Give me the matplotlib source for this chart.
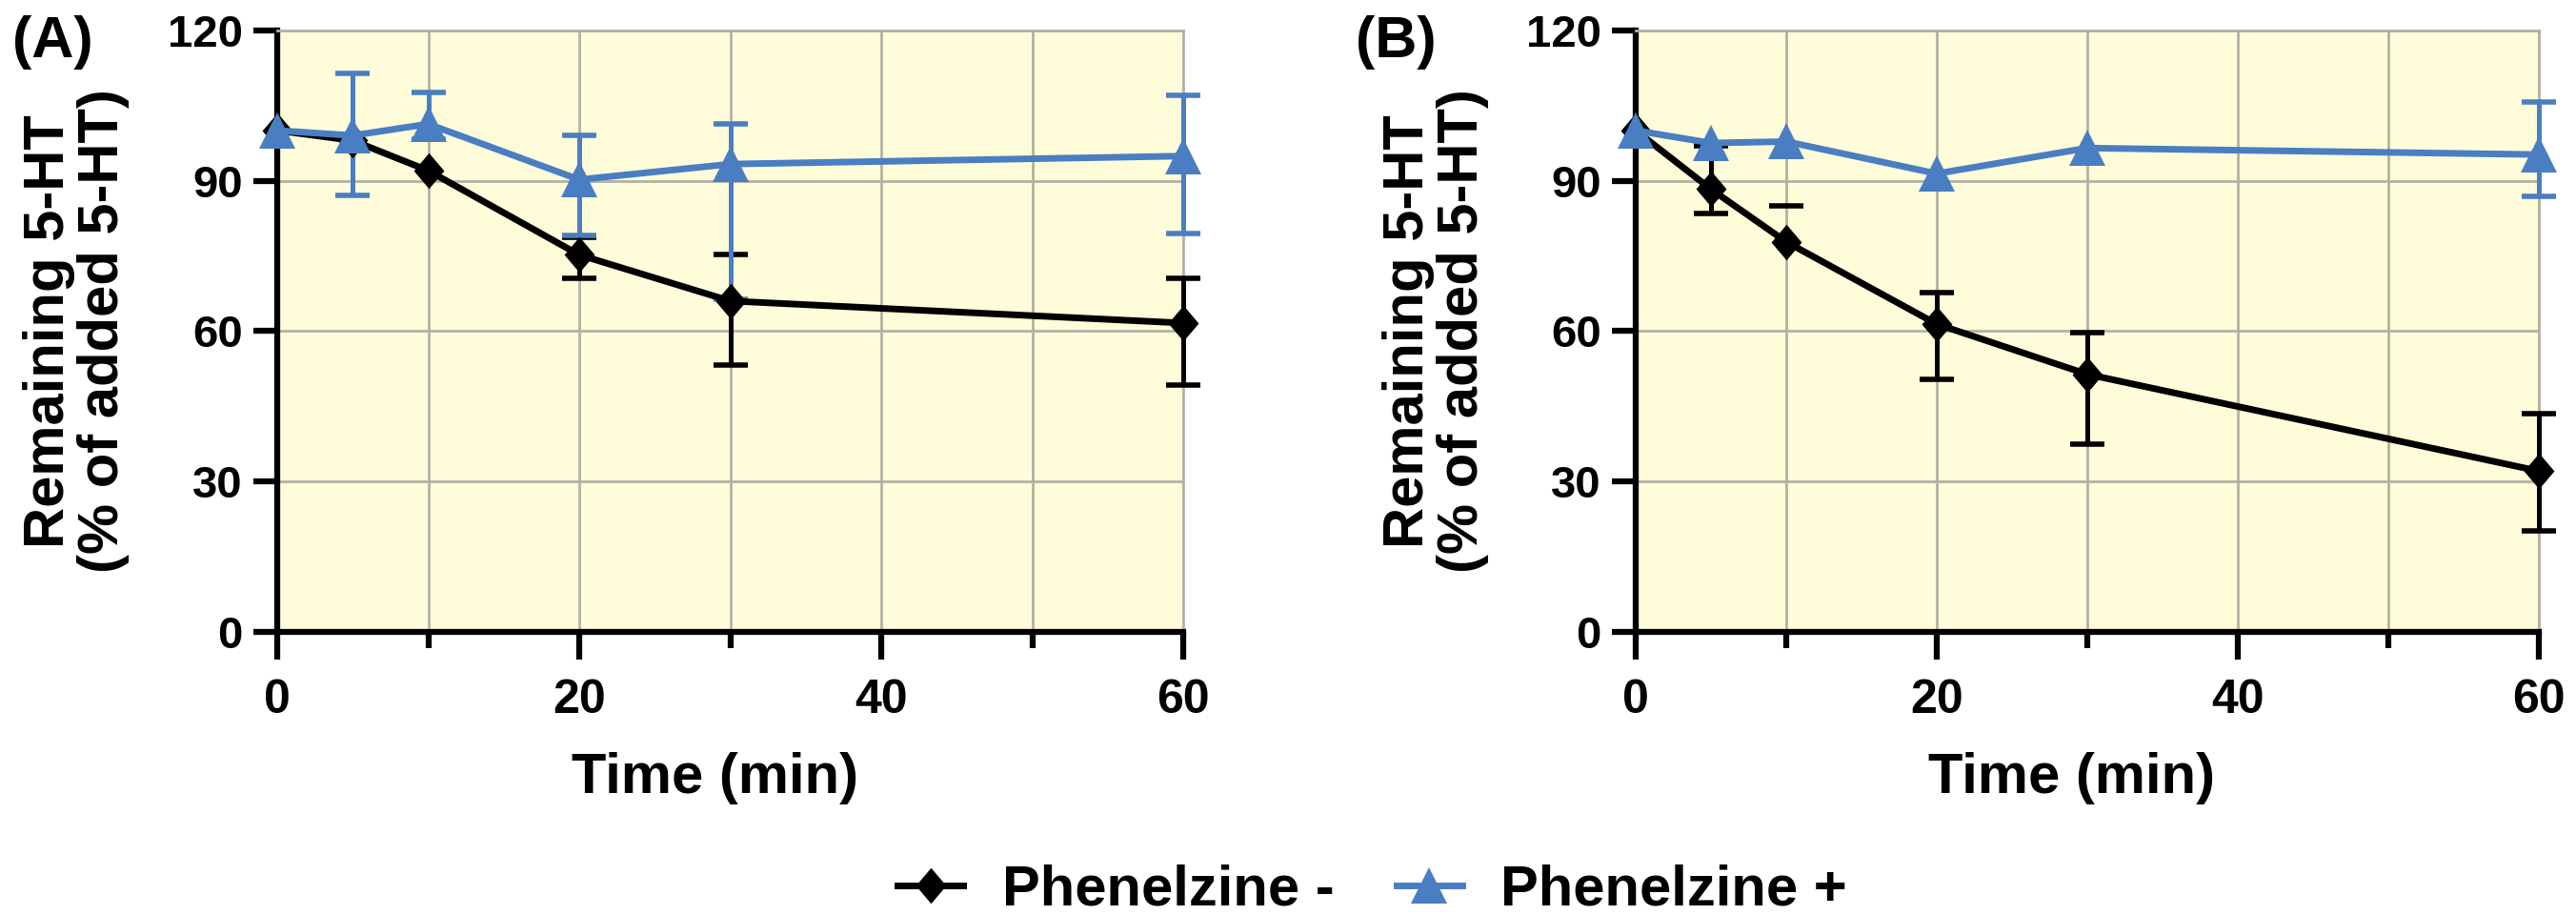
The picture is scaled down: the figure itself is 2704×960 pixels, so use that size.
import matplotlib
matplotlib.use("Agg")
import matplotlib.pyplot as plt
import numpy as np

plt.rcParams['font.family'] = ['Liberation Sans', 'DejaVu Sans']
plt.rcParams['font.weight'] = 'bold'

NA = np.nan  # error bar hidden behind the marker / not shown

# ---------------- data ----------------
times = [0, 5, 10, 20, 30, 60]

# Panel A
a_minus = [100, 98, 92, 75.2, 66.0, 61.6]
a_minus_lo = [NA, NA, NA, 4.7, 12.7, 12.4]
a_minus_hi = [NA, NA, NA, 3.5, 9.2, 9.0]
a_plus = [100, 99.0, 101.3, 90.2, 93.3, 94.9]
a_plus_lo = [NA, 12.0, 3.0, 11.2, 27.0, 15.5]
a_plus_hi = [NA, 12.4, 6.2, 8.8, 8.0, 12.2]

# Panel B
b_minus = [100, 88.3, 77.8, 61.4, 51.4, 32.1]
b_minus_lo = [NA, 4.8, NA, 11.1, 13.9, 12.0]
b_minus_hi = [NA, 8.6, 7.1, 6.3, 8.3, 11.4]
b_plus = [100, 97.5, 97.8, 91.4, 96.5, 95.2]
b_plus_lo = [NA, NA, NA, NA, NA, 8.4]
b_plus_hi = [NA, NA, NA, NA, NA, 10.5]

series_labels = ["Phenelzine -", "Phenelzine +"]
panel_labels = ["(A)", "(B)"]
xticks = [0, 20, 40, 60]
xminor = [10, 30, 50]
yticks = [0, 30, 60, 90, 120]
xlabel = "Time (min)"
ylabel = "Remaining 5-HT\n(% of added 5-HT)"

# ---------------- style ----------------
W, H, DPI = 2704, 960, 100
BLACK = "#000000"
BLUE = "#4A7EC3"
BG = "#FFFDD9"
GRID = "#B3B1A5"
diamond = [(0, 1), (0.85, 0), (0, -1), (-0.85, 0)]

fig = plt.figure(figsize=(W / DPI, H / DPI), dpi=DPI)

def px_ax(left, right, top, bottom):
    return [left / W, 1 - bottom / H, (right - left) / W, (bottom - top) / H]

axA = fig.add_axes(px_ax(291, 1242, 31.7, 663))
axB = fig.add_axes(px_ax(1717, 2664.5, 31.7, 663))

panels = [
    (axA, (a_minus, a_minus_lo, a_minus_hi), (a_plus, a_plus_lo, a_plus_hi)),
    (axB, (b_minus, b_minus_lo, b_minus_hi), (b_plus, b_plus_lo, b_plus_hi)),
]

handles = None
for i, (ax, minus, plus) in enumerate(panels):
    ax.set_facecolor(BG)
    ax.set_xlim(0, 60)
    ax.set_ylim(0, 120)
    ax.set_xticks(xticks)
    ax.set_xticks(xminor, minor=True)
    ax.set_yticks(yticks)
    ax.set_axisbelow(True)
    ax.grid(True, which='both', axis='x', color=GRID, linewidth=2.0)
    ax.grid(True, which='major', axis='y', color=GRID, linewidth=2.0)
    for s in ['top', 'right']:
        ax.spines[s].set_color(GRID)
        ax.spines[s].set_linewidth(2.0)
    for s in ['left', 'bottom']:
        ax.spines[s].set_color(BLACK)
        ax.spines[s].set_linewidth(4.5)
    ax.tick_params(axis='x', which='major', length=21, width=4.5, pad=14,
                   labelsize=36, direction='out')
    ax.tick_params(axis='x', which='minor', length=12.5, width=4.5, direction='out')
    ax.tick_params(axis='y', which='major', length=18, width=4.5, pad=8,
                   labelsize=34, direction='out')
    for lab in ax.get_xticklabels() + ax.get_yticklabels():
        lab.set_fontweight('bold')

    hs = []
    for (vals, lo, hi), color, marker, ms in [
        (minus, BLACK, diamond, 27),
        (plus, BLUE, '^', 28),
    ]:
        eb = ax.errorbar(times, vals, yerr=[lo, hi], fmt='none', ecolor=color,
                         elinewidth=3.6, capsize=13, capthick=4.0, zorder=3)
        for art in eb.get_children():
            art.set_clip_on(False)
        ln, = ax.plot(times, vals, color=color, linewidth=5.0, marker=marker,
                      markersize=ms, markerfacecolor=color,
                      markeredgecolor=color, markeredgewidth=0, zorder=4,
                      clip_on=False)
        hs.append(ln)
    if handles is None:
        handles = hs

    ax.set_xlabel(xlabel, fontsize=43, fontweight='bold')
    ax.xaxis.set_label_coords(0.483, (663 - 832) / 631.3)
    ax.xaxis.label.set_verticalalignment('baseline')

    ax.set_ylabel(ylabel, fontsize=43, fontweight='bold', linespacing=1.05)
    ax.yaxis.label.set_rotation_mode('default')
    ax.yaxis.label.set_horizontalalignment('center')
    ax.yaxis.label.set_verticalalignment('center')
    ax.yaxis.label.set_multialignment('center')
    ax.yaxis.set_label_coords((80 - 291) / 951, 0.5)

fig.text(13 / W, 1 - 60 / H, panel_labels[0], fontsize=44, fontweight='bold',
         ha='left', va='baseline')
fig.text(1423 / W, 1 - 60 / H, panel_labels[1], fontsize=44, fontweight='bold',
         ha='left', va='baseline')

fig.legend(handles, series_labels, loc='center', ncol=2, frameon=False,
           bbox_to_anchor=(1440.5 / W, 1 - 934 / H),
           prop={'size': 43, 'weight': 'bold'},
           handlelength=1.15, handletextpad=0.68, columnspacing=1.1,
           borderpad=0.2)

fig.savefig("out.png", dpi=DPI, facecolor='white')
